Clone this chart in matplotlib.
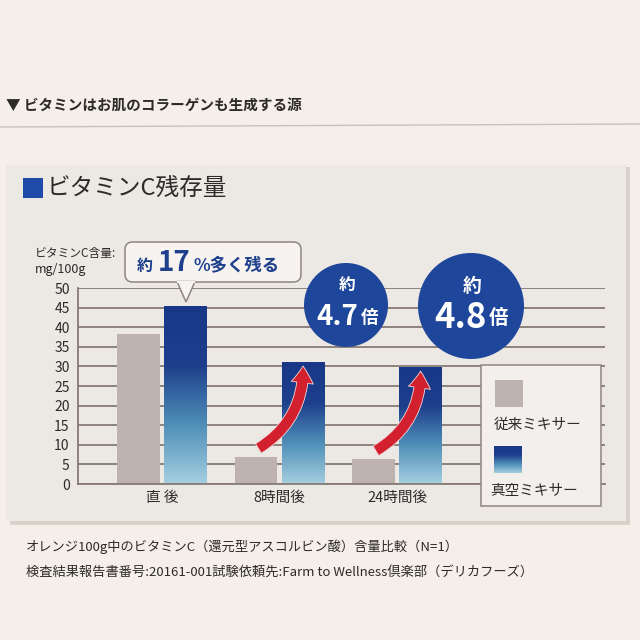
import numpy as np
import matplotlib.pyplot as plt
from matplotlib.patches import Rectangle, Circle, FancyBboxPatch, FancyArrowPatch, Polygon
from matplotlib.colors import LinearSegmentedColormap

plt.rcParams['font.family'] = ['Noto Sans CJK JP', 'DejaVu Sans']

# data
categories = ['直 後', '8時間後', '24時間後']
conventional = [38.3, 6.9, 6.3]     # 従来ミキサー
vacuum = [45.4, 31.1, 29.8]         # 真空ミキサー
series_names = ['従来ミキサー', '真空ミキサー']
yticks = list(range(0, 51, 5))
ratio_labels = ['4.7', '4.8']

W = H = 640
def fx(x): return x / W
def fy(y): return 1 - y / H

gray = '#bdb2ad'
navy = '#1d3f8c'
grid_c = '#877a75'
txt_c = '#2e2a28'

fig = plt.figure(figsize=(6.4, 6.4), dpi=100)
fig.patch.set_facecolor('#f4efe9')
tf = fig.transFigure

# header
fig.text(fx(6), fy(105), '▼ ビタミンはお肌のコラーゲンも生成する源', fontsize=10.5,
         fontweight='bold', color=txt_c, va='center')
fig.add_artist(plt.Line2D([0, 1], [fy(127), fy(124)], transform=tf, color='#c9c2bc', lw=1, zorder=-3))

# panel with a soft shadow
fig.add_artist(Rectangle((fx(10), fy(525)), fx(620), 358 / H, transform=tf,
                         fc='#d9d2cb', ec='none', zorder=-3))
fig.add_artist(Rectangle((fx(6), fy(521)), fx(620), 356 / H, transform=tf,
                         fc='#ece8e4', ec='none', zorder=-2))
fig.add_artist(Rectangle((fx(23), fy(198)), 20 / W, 20 / H, transform=tf, fc='#1f4aa8', ec='none'))
fig.text(fx(47), fy(189), 'ビタミンC残存量', fontsize=17, color=txt_c, va='center')

# main axes
ax = fig.add_axes([fx(78), fy(484), (605 - 78) / W, (484 - 288) / H])
ax.set_facecolor('none')
x = np.arange(len(categories))
bw = 0.36
off = 0.2

ax.bar(x - off, conventional, bw, color=gray, zorder=2)

grad = np.linspace(0, 1, 256).reshape(-1, 1)
bcmap = LinearSegmentedColormap.from_list('vac', ['#a6cfe0', '#4f8fb8', '#1d3f8c', '#183788'])
for xi, v in zip(x + off, vacuum):
    ax.imshow(grad, extent=[xi - bw / 2, xi + bw / 2, 0, v], origin='lower',
              cmap=bcmap, aspect='auto', zorder=2)
ax.set_xlim(-0.715, 3.77)
ax.set_ylim(0, 50)

ax.set_yticks(yticks)
ax.yaxis.grid(True, color=grid_c, lw=1.3)
ax.set_axisbelow(True)
ax.set_xticks(x, categories)
ax.tick_params(length=0, labelsize=10, colors=txt_c, pad=6)
ax.tick_params(axis='x', labelsize=10.5, pad=5)
for s in ['top', 'right']:
    ax.spines[s].set_visible(False)
for s in ['left', 'bottom']:
    ax.spines[s].set_color(grid_c)
    ax.spines[s].set_linewidth(1.3)

fig.text(fx(35), fy(253), 'ビタミンC含量:', fontsize=8.5, color=txt_c, va='center')
fig.text(fx(35), fy(270), 'mg/100g', fontsize=9, color=txt_c, va='center')

# red arrows from conventional to vacuum
for i in [1, 2]:
    arr = FancyArrowPatch((x[i] - off, conventional[i] + 1.8), (x[i] + off, vacuum[i] - 0.3),
                          connectionstyle='arc3,rad=0.3',
                          arrowstyle='simple,head_width=2.0,head_length=1.5,tail_width=1.0',
                          mutation_scale=8, fc='#d3202e', ec='#f2d8d8', lw=0.6, zorder=4)
    ax.add_patch(arr)

# speech bubble
fig.add_artist(FancyBboxPatch((fx(125), fy(282)), 176 / W, 40 / H, transform=tf,
                              boxstyle='round,pad=0,rounding_size=0.012',
                              fc='#f6f3f0', ec='#8f8580', lw=1.1, zorder=5))
fig.add_artist(Polygon([(fx(177), fy(281.5)), (fx(195), fy(281.5)), (fx(186), fy(302))],
                       closed=True, transform=tf, fc='#f6f3f0', ec='#8f8580', lw=1.1, zorder=5))
fig.add_artist(plt.Line2D([fx(177.8), fx(194.2)], [fy(281.5), fy(281.5)], transform=tf,
                          color='#f6f3f0', lw=1.6, zorder=6))
fig.text(fx(137), fy(266), '約', fontsize=11.5, fontweight='bold', color=navy, va='center', zorder=6)
fig.text(fx(158), fy(263), '17', fontsize=20, fontweight='bold', color=navy, va='center', zorder=6)
fig.text(fx(194), fy(266), '%多く残る', fontsize=12.5, fontweight='bold', color=navy, va='center', zorder=6)

# ratio circles
circles = [(346, 305, 42, 20, 12.5), (471, 306, 53, 25, 14)]
for (cx, cy, r, fs, fs2), lab in zip(circles, ratio_labels):
    fig.add_artist(Circle((fx(cx), fy(cy)), r / W, transform=tf, fc='#1e469a', ec='none', zorder=5))
    fig.text(fx(cx + 1), fy(cy - 20), '約', fontsize=12 if r < 50 else 13.5, fontweight='bold',
             color='white', ha='center', va='center', zorder=6)
    fig.text(fx(cx + r * 0.3), fy(cy + 12), lab, fontsize=fs, fontweight='bold',
             color='white', ha='right', va='center', zorder=6)
    fig.text(fx(cx + r * 0.3 + 2), fy(cy + 13), '倍', fontsize=fs2, fontweight='bold',
             color='white', ha='left', va='center', zorder=6)

# legend box
fig.add_artist(Rectangle((fx(481), fy(506)), 120 / W, 141 / H, transform=tf,
                         fc='#f2efec', ec='#8f8580', lw=1.1, zorder=5))
fig.add_artist(Rectangle((fx(495), fy(407)), 28 / W, 27 / H, transform=tf,
                         fc=gray, ec='none', zorder=6))
fig.text(fx(494), fy(425), series_names[0], fontsize=10.5, color=txt_c, va='center', zorder=6)
lax = fig.add_axes([fx(494), fy(473), 28 / W, 27 / H], zorder=7)
lax.imshow(grad, origin='lower', cmap=bcmap, aspect='auto', extent=[0, 1, 0, 1])
lax.axis('off')
fig.text(fx(490), fy(491), series_names[1], fontsize=10.5, color=txt_c, va='center', zorder=6)

# footnotes
fig.text(fx(26), fy(547), 'オレンジ100g中のビタミンC（還元型アスコルビン酸）含量比較（N=1）',
         fontsize=9.5, color=txt_c, va='center')
fig.text(fx(26), fy(572), '検査結果報告書番号:20161-001試験依頼先:Farm to Wellness倶楽部（デリカフーズ）',
         fontsize=9.5, color=txt_c, va='center')

fig.savefig('out.png', dpi=100, facecolor=fig.get_facecolor())
